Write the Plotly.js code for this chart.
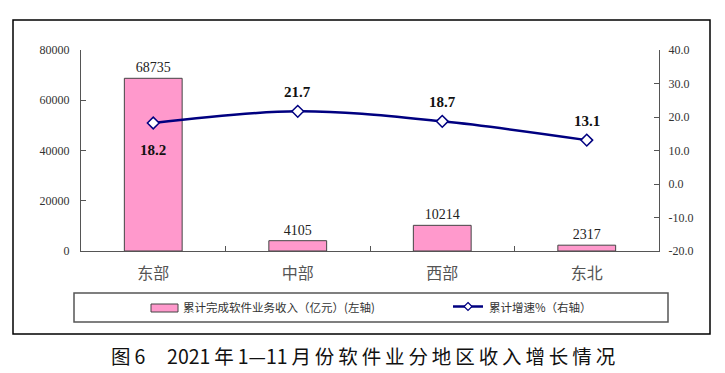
<!DOCTYPE html>
<html>
<head>
<meta charset="utf-8">
<script src="https://cdn.plot.ly/plotly-3.0.1.min.js"></script>
<style>html,body{margin:0;padding:0;background:#fff;}#chart{width:725px;height:373px;}</style>
</head>
<body>
<div id="chart"></div>
<script>
const categories = ['东部', '中部', '西部', '东北'];
const revenue = [68735, 4105, 10214, 2317];
const growth = [18.2, 21.7, 18.7, 13.1];
const growthLabelShift = [-27, 19, 19, 19];
const seriesNames = ['累计完成软件业务收入（亿元）(左轴)', '累计增速%（右轴）'];
const leftTicks = [0, 20000, 40000, 60000, 80000];
const rightTicks = [-20, -10, 0, 10, 20, 30, 40];
const captionParts = ['图6', '2021年1—11月份软件业分地区收入增长情况'];

const W = 725, H = 373;
const L = 81, R = 659, T = 50, B = 251;
const px = x => (x - L) / (R - L);
const py = y => (B - y) / (B - T);

const serif = 'Liberation Serif, Times New Roman, serif';
const cjk = 'Noto Sans CJK SC, sans-serif';

// spread CJK characters slightly (thin spaces) like the reference caption
const spread = s => s.replace(/([\u4e00-\u9fff])(?=[\u4e00-\u9fff])/g, '$1\u2009')
                     .replace(/([0-9])(?=[\u4e00-\u9fff])/g, '$1\u2009')
                     .replace(/([\u4e00-\u9fff])(?=[0-9])/g, '$1\u2009');
const captionText = spread(captionParts[0]) + '&nbsp;&nbsp;&nbsp;&nbsp;&nbsp;' + spread(captionParts[1]);

const traces = [
  {
    type: 'bar', x: categories, y: revenue, name: seriesNames[0],
    width: 0.4,
    marker: {color: '#FF99CC', line: {color: '#444', width: 1}},
    text: revenue.map(String), textposition: 'outside', cliponaxis: false,
    textfont: {family: serif, size: 14, color: '#222'},
    showlegend: false, hoverinfo: 'x+y'
  },
  {
    type: 'scatter', mode: 'lines+markers', x: categories, y: growth, yaxis: 'y2',
    name: seriesNames[1],
    line: {color: '#000080', width: 2.5, shape: 'spline', smoothing: 1},
    marker: {symbol: 'diamond', size: 9, color: '#fff', line: {color: '#000080', width: 1.5}},
    cliponaxis: false, showlegend: false
  }
];

const shapes = [
  {type: 'rect', xref: 'paper', yref: 'paper', x0: px(13), x1: px(710), y0: py(334), y1: py(20),
   line: {color: '#000', width: 1.5}, fillcolor: 'rgba(0,0,0,0)'},
  {type: 'rect', xref: 'paper', yref: 'paper', x0: px(74), x1: px(668), y0: py(322), y1: py(293),
   line: {color: '#555', width: 1.5}, fillcolor: 'rgba(0,0,0,0)'},
  {type: 'rect', xref: 'paper', yref: 'paper', x0: px(151), x1: px(178), y0: py(312), y1: py(304),
   line: {color: '#444', width: 1}, fillcolor: '#FF99CC'},
  {type: 'line', xref: 'paper', yref: 'paper', x0: px(453), x1: px(483), y0: py(306.5), y1: py(306.5),
   line: {color: '#000080', width: 2.5}},
  {type: 'path', xref: 'paper', yref: 'paper',
   path: `M ${px(468)} ${py(302.5)} L ${px(472)} ${py(306.5)} L ${px(468)} ${py(310.5)} L ${px(464)} ${py(306.5)} Z`,
   line: {color: '#000080', width: 1.2}, fillcolor: '#fff'}
];

const annotations = [
  {xref: 'paper', yref: 'paper', x: px(181), y: py(307), xanchor: 'left', yanchor: 'middle',
   text: seriesNames[0], showarrow: false, font: {family: cjk, size: 11.5, color: '#333'}},
  {xref: 'paper', yref: 'paper', x: px(487), y: py(307), xanchor: 'left', yanchor: 'middle',
   text: seriesNames[1], showarrow: false, font: {family: cjk, size: 11.5, color: '#333'}},
  {xref: 'paper', yref: 'paper', x: px(363), y: py(355), xanchor: 'center', yanchor: 'middle',
   text: captionText, showarrow: false, font: {family: cjk, size: 19.5, color: '#111'}}
];

growth.forEach((v, i) => {
  annotations.push({
    xref: 'x', yref: 'y2', x: categories[i], y: v, yshift: growthLabelShift[i],
    text: v.toFixed(1), showarrow: false, xanchor: 'center', yanchor: 'middle',
    font: {family: serif, size: 15, color: '#111', weight: 'bold'}
  });
});

const layout = {
  width: W, height: H,
  margin: {l: L, r: W - R, t: T, b: H - B, pad: 0},
  paper_bgcolor: '#fff', plot_bgcolor: '#fff',
  showlegend: false,
  xaxis: {
    type: 'category', range: [-0.5, 3.5], showline: true, linecolor: '#555', linewidth: 1.2,
    ticks: 'inside', ticklen: 5, tickcolor: '#555', tickson: 'boundaries',
    tickfont: {family: cjk, size: 16, color: '#555'}, showgrid: false, zeroline: false,
    ticklabelstandoff: 8
  },
  yaxis: {
    range: [0, 80000], tickvals: leftTicks, ticktext: leftTicks.map(String),
    showline: true, linecolor: '#555', linewidth: 1.2, ticks: 'inside', ticklen: 5, tickcolor: '#555',
    tickfont: {family: serif, size: 12, color: '#333'}, showgrid: false, zeroline: false, ticklabelstandoff: 8
  },
  yaxis2: {
    overlaying: 'y', side: 'right', range: [-20, 40], tickvals: rightTicks,
    ticktext: rightTicks.map(v => v.toFixed(1)),
    showline: true, linecolor: '#555', linewidth: 1.2, ticks: 'inside', ticklen: 5, tickcolor: '#555',
    tickfont: {family: serif, size: 12, color: '#333'}, showgrid: false, zeroline: false, ticklabelstandoff: 6
  },
  shapes: shapes,
  annotations: annotations
};

Plotly.newPlot('chart', traces, layout, {displayModeBar: false, staticPlot: true});
</script>
</body>
</html>
